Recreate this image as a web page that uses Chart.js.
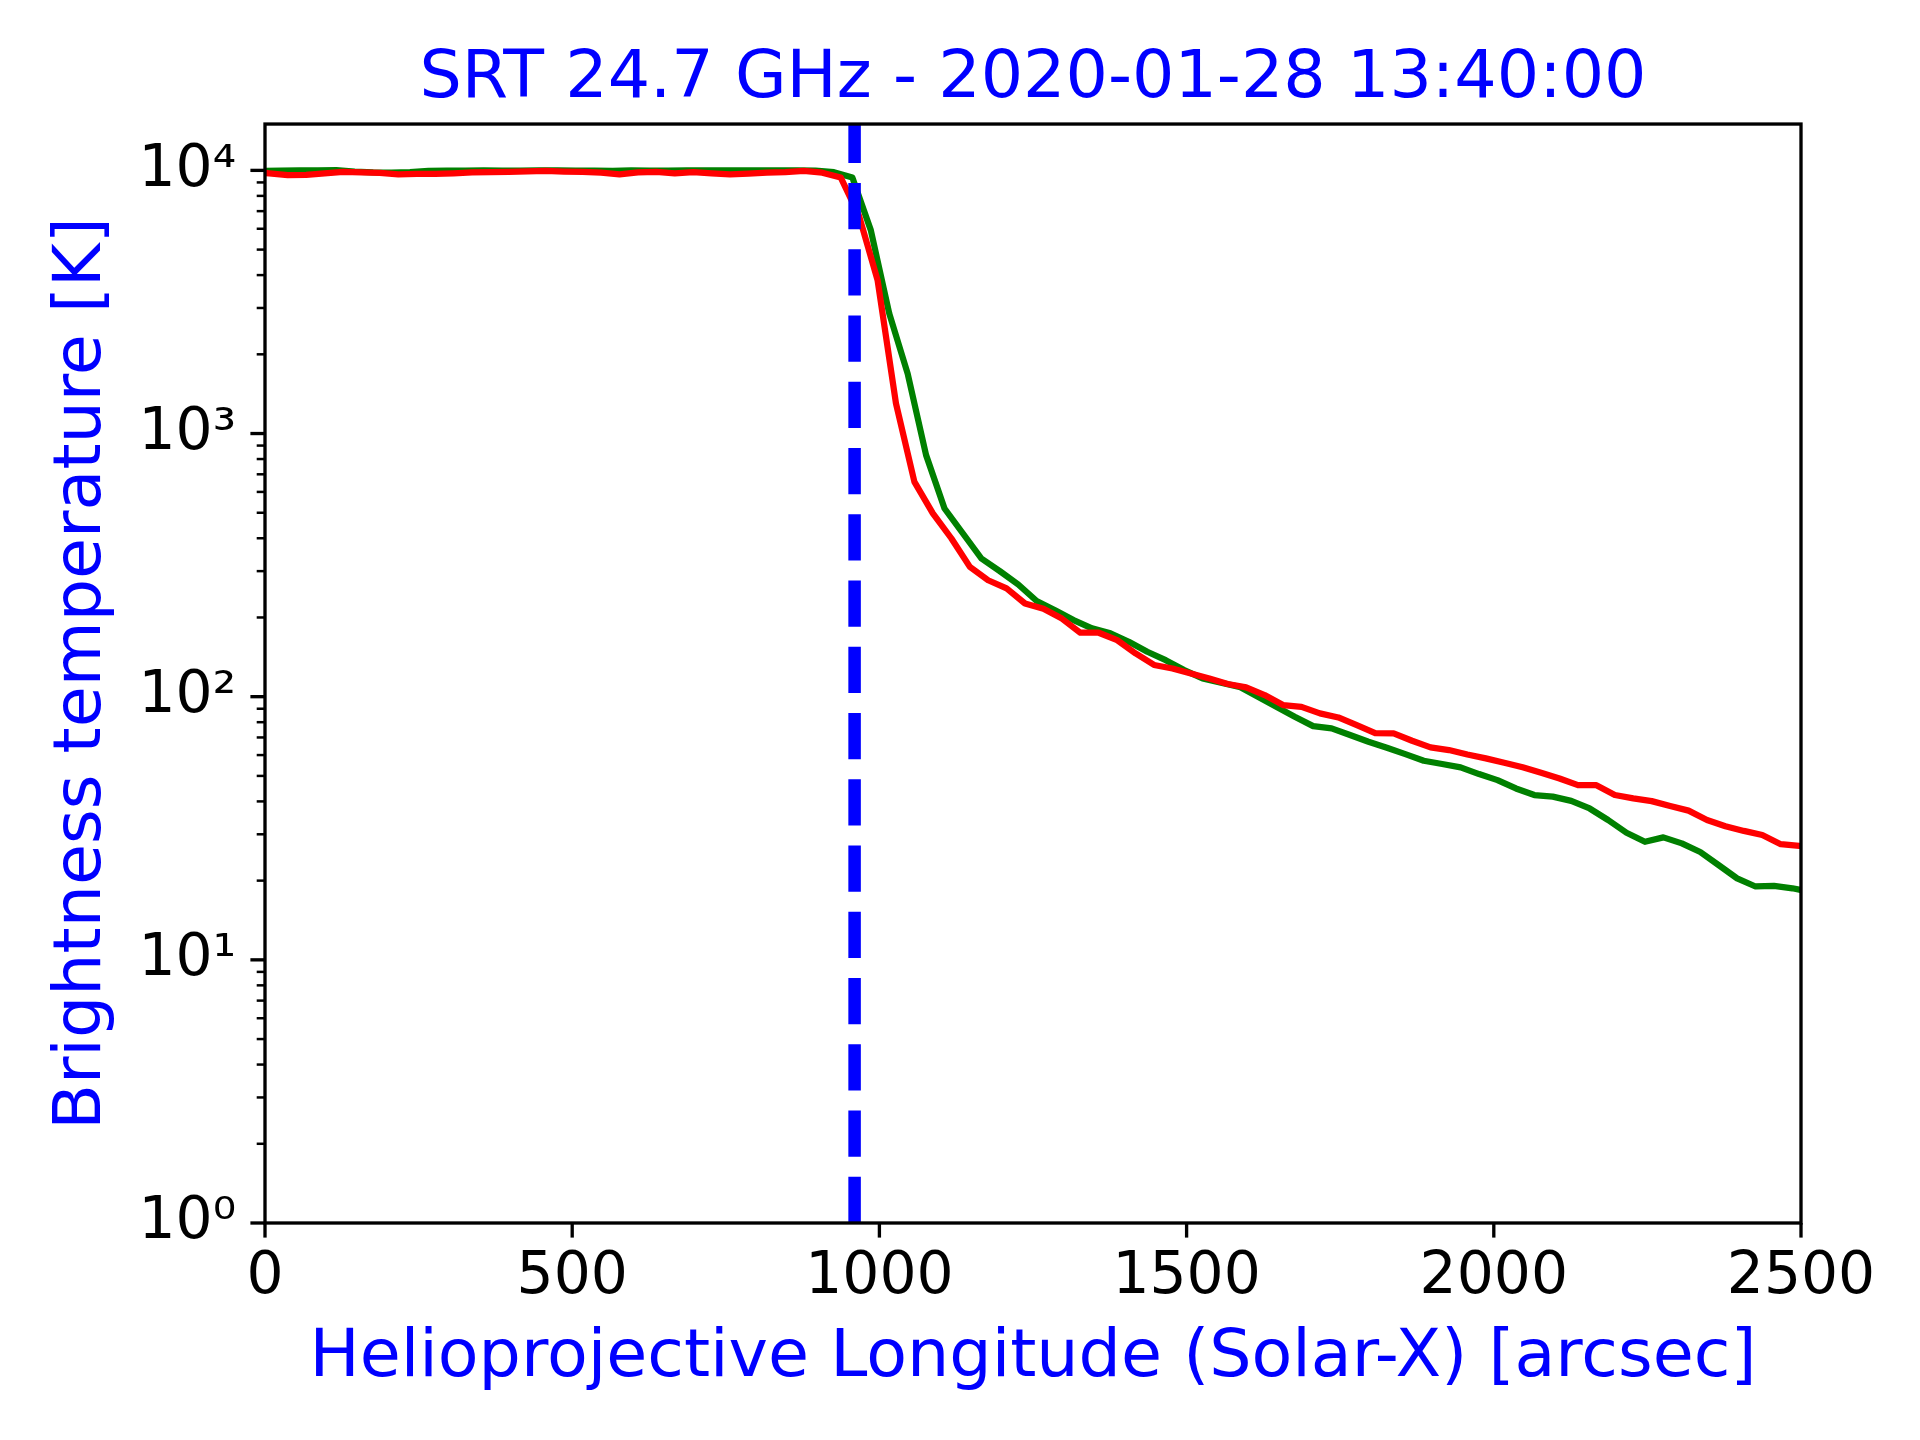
<!DOCTYPE html>
<html>
<head>
<meta charset="utf-8">
<script src="https://cdn.jsdelivr.net/npm/chart.js@4.4.1/dist/chart.umd.min.js"></script>
<style>
html,body{margin:0;padding:0;background:#fff;}
canvas{display:block;}
</style>
</head>
<body>
<canvas id="c" width="1920" height="1440" style="width:1920px;height:1440px"></canvas>
<script>
// ---------- texts ----------
const titleText = 'SRT 24.7 GHz - 2020-01-28 13:40:00';
const xLabel = 'Helioprojective Longitude (Solar-X) [arcsec]';
const yLabel = 'Brightness temperature [K]';

// ---------- ticks ----------
const xTicks = [0, 500, 1000, 1500, 2000, 2500];
const xTickLabels = ['0', '500', '1000', '1500', '2000', '2500'];
const yTicks = [1, 10, 100, 1000, 10000];
const yTickLabels = ['10⁰', '10¹', '10²', '10³', '10⁴'];
const yMinorFactors = [2, 3, 4, 5, 6, 7, 8, 9];
const xMin = 0, xMax = 2500, yMin = 1, yMax = 15000;

// ---------- limb marker ----------
const solarRadius = 959.63;

// ---------- red profile ----------
const redX = [-23, 7, 37, 67, 97, 127, 157, 187, 217, 247, 277, 307, 337, 367, 397, 427, 457, 487, 517, 547,
  577, 607, 637, 667, 697, 727, 757, 787, 817, 847, 877, 907, 937, 967, 997, 1027, 1057, 1087, 1117, 1147,
  1177, 1207, 1237, 1267, 1297, 1327, 1357, 1387, 1417, 1447, 1477, 1507, 1537, 1567, 1597, 1627, 1657, 1687, 1717, 1747,
  1777, 1807, 1837, 1867, 1897, 1927, 1957, 1987, 2017, 2047, 2077, 2107, 2137, 2167, 2197, 2227, 2257, 2287, 2317, 2347,
  2377, 2407, 2437, 2467, 2497, 2527];
const redT = [9850, 9750, 9600, 9620, 9750, 9870, 9820, 9780, 9650, 9700, 9700, 9750, 9820, 9850, 9870, 9920, 9950, 9900, 9870, 9800,
  9650, 9820, 9870, 9750, 9850, 9750, 9650, 9720, 9800, 9850, 9950, 9800, 9400, 6700, 3830, 1300, 655, 497, 400, 312,
  277, 258, 226, 216, 198, 175, 175, 164, 146, 132, 128, 122.6, 117.3, 111.7, 108.5, 101.4, 92.9, 91.5, 86.4, 83.4,
  78.0, 72.7, 72.5, 68.0, 64.2, 62.7, 60.3, 58.3, 56.1, 53.9, 51.4, 48.9, 46.1, 46.1, 42.3, 41.1, 40.1, 38.4, 36.9, 34.0,
  32.2, 30.9, 29.8, 27.5, 27.1, 27.0];

// ---------- green profile ----------
const greenX = [-4, 26, 56, 86, 116, 146, 176, 206, 236, 266, 296, 326, 356, 386, 416, 446, 476, 506, 536, 566,
  596, 626, 656, 686, 716, 746, 776, 806, 836, 866, 896, 926, 956, 986, 1016, 1046, 1076, 1106, 1136, 1166,
  1196, 1226, 1256, 1286, 1316, 1346, 1376, 1406, 1436, 1466, 1496, 1526, 1556, 1586, 1616, 1646, 1676, 1706, 1736, 1766,
  1796, 1826, 1856, 1886, 1916, 1946, 1976, 2006, 2036, 2066, 2096, 2126, 2156, 2186, 2216, 2246, 2276, 2306, 2336, 2366,
  2396, 2426, 2456, 2486, 2516];
const greenT = [9950, 9980, 10000, 10000, 10020, 9900, 9820, 9800, 9850, 9950, 9970, 9980, 10000, 9980, 9970, 10000, 10000, 9980, 9970, 9960,
  10000, 9980, 9970, 9990, 10000, 10000, 10000, 10000, 10000, 10000, 9980, 9840, 9400, 5930, 2860, 1690, 828, 519, 417, 335,
  300, 267, 231, 213, 195.5, 181.8, 174, 161.7, 148.2, 137.7, 126.2, 117.3, 113, 109, 100, 91.5, 83.9, 77.3, 75.8, 71.5,
  67.4, 64, 60.5, 57.1, 55.5, 53.9, 50.8, 48.2, 44.8, 42.3, 41.7, 40.2, 37.6, 34.0, 30.4, 28.1, 29.2, 27.7, 25.7, 22.9,
  20.4, 19.0, 19.1, 18.7, 18.1];

// ---------- style ----------
const FONT = 'DejaVu Sans';
const BLUE = '#0000ff', RED = '#ff0000', GREEN = '#008000';

// matplotlib-like spines and tick marks, placed through the chart scales
const mplAxes = {
  id: 'mplAxes',
  afterDatasetsDraw(chart) {
    const {ctx, chartArea: a, scales: {x, y}} = chart;
    ctx.save();
    ctx.strokeStyle = '#000';
    ctx.lineCap = 'butt';
    const seg = (x1, y1, x2, y2) => { ctx.beginPath(); ctx.moveTo(x1, y1); ctx.lineTo(x2, y2); ctx.stroke(); };
    // major ticks
    ctx.lineWidth = 3.33;
    xTicks.forEach(v => { const p = x.getPixelForValue(v); seg(p, a.bottom, p, a.bottom + 14.6); });
    yTicks.forEach(v => { const p = y.getPixelForValue(v); seg(a.left, p, a.left - 14.6, p); });
    // minor ticks
    ctx.lineWidth = 2.5;
    yTicks.forEach(d => {
      yMinorFactors.forEach(f => {
        const v = d * f;
        if (v <= y.max) { const p = y.getPixelForValue(v); seg(a.left, p, a.left - 8.3, p); }
      });
    });
    // spines
    ctx.lineWidth = 3.33;
    ctx.strokeRect(a.left, a.top, a.right - a.left, a.bottom - a.top);
    ctx.restore();
  }
};

const ctx = document.getElementById('c').getContext('2d');
new Chart(ctx, {
  type: 'line',
  data: {
    datasets: [
      {
        label: 'limb',
        data: [{x: solarRadius, y: yMin}, {x: solarRadius, y: yMax}],
        borderColor: BLUE, borderWidth: 12.5, borderDash: [46.25, 20], borderCapStyle: 'butt',
        pointRadius: 0, tension: 0, clip: 0, order: 0
      },
      {
        label: 'red',
        data: redX.map((x, i) => ({x: x, y: redT[i]})),
        borderColor: RED, borderWidth: 6.25, borderJoinStyle: 'round', borderCapStyle: 'square',
        pointRadius: 0, tension: 0, clip: 0, order: 1
      },
      {
        label: 'green',
        data: greenX.map((x, i) => ({x: x, y: greenT[i]})),
        borderColor: GREEN, borderWidth: 6.25, borderJoinStyle: 'round', borderCapStyle: 'square',
        pointRadius: 0, tension: 0, clip: 0, order: 2
      }
    ]
  },
  options: {
    responsive: false,
    devicePixelRatio: 1,
    animation: false,
    events: [],
    layout: {padding: {left: 0, right: 119, top: 0, bottom: 0}},
    plugins: {
      legend: {display: false},
      tooltip: {enabled: false},
      title: {
        display: true, text: titleText, color: BLUE, fullSize: false,
        font: {family: FONT, size: 66.7, weight: 'normal', lineHeight: 1.2},
        padding: {top: 40, bottom: 4}
      }
    },
    scales: {
      x: {
        type: 'linear', min: xMin, max: xMax,
        grid: {display: false, drawTicks: false},
        border: {display: false},
        ticks: {
          color: '#000', font: {family: FONT, size: 58.3}, padding: 19.5, maxRotation: 0, autoSkip: false,
          callback(v) { const i = xTicks.indexOf(v); return i >= 0 ? xTickLabels[i] : ''; }
        },
        afterBuildTicks(s) { s.ticks = xTicks.map(v => ({value: v})); },
        afterFit(s) { s.height = 217; },
        title: {
          display: true, text: xLabel, color: BLUE,
          font: {family: FONT, size: 66.7, weight: 'normal', lineHeight: 1.2},
          padding: {top: 0, bottom: 41}
        }
      },
      y: {
        type: 'logarithmic', min: yMin, max: yMax,
        grid: {display: false, drawTicks: false},
        border: {display: false},
        ticks: {
          color: '#000', font: {family: FONT, size: 58.3}, padding: 29, autoSkip: false,
          callback(v) { const i = yTicks.indexOf(v); return i >= 0 ? yTickLabels[i] : ''; }
        },
        afterBuildTicks(s) { s.ticks = yTicks.map(v => ({value: v, major: true})); },
        afterFit(s) { s.width = 265; },
        title: {
          display: true, text: yLabel, color: BLUE,
          font: {family: FONT, size: 66.7, weight: 'normal', lineHeight: 1.2},
          padding: {top: 43, bottom: 0}
        }
      }
    }
  },
  plugins: [mplAxes]
});
</script>
</body>
</html>
